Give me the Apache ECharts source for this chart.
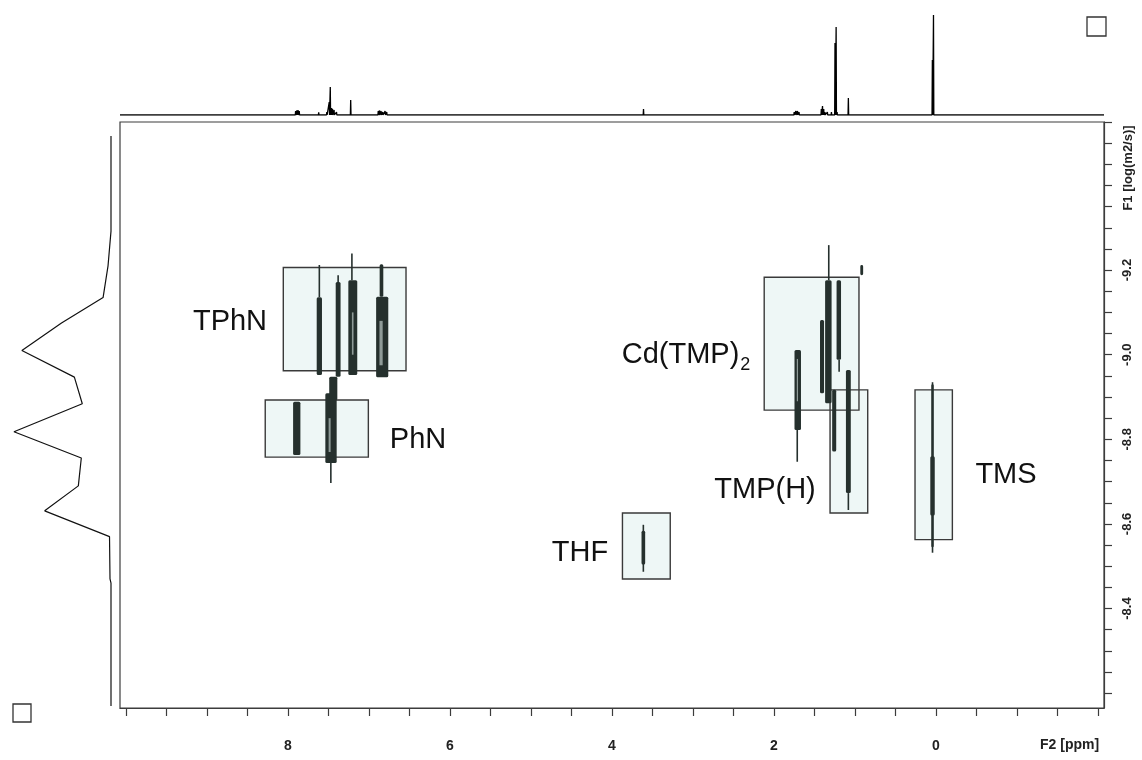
<!DOCTYPE html>
<html><head><meta charset="utf-8">
<script src="https://cdn.jsdelivr.net/npm/echarts@6/dist/echarts.min.js"></script>
<style>html,body{margin:0;padding:0;background:#fff}#c{width:1142px;height:760px}</style>
</head><body><div id="c"></div><script>
// ---- axes ----
const f2Range = [-2.075, 10.073];           // ppm (drawn inverted)
const f1Range = [-9.55, -8.165];            // log(m2/s) (drawn inverted)
const f2TickValues = [10,9.5,9,8.5,8,7.5,7,6.5,6,5.5,5,4.5,4,3.5,3,2.5,2,1.5,1,0.5,0,-0.5,-1,-1.5,-2];
const f2LabelValues = [8,6,4,2,0];
const f1TickValues = [-9.55,-9.5,-9.45,-9.4,-9.35,-9.3,-9.25,-9.2,-9.15,-9.1,-9.05,-9.0,-8.95,-8.9,-8.85,-8.8,-8.75,-8.7,-8.65,-8.6,-8.55,-8.5,-8.45,-8.4,-8.35,-8.3,-8.25,-8.2];
const f1LabelValues = [-9.2,-9.0,-8.8,-8.6,-8.4];

// ---- 1D 1H spectrum on top: [ppm, intensity] ----
const spectrumPeaks = [
  [7.905,4],[7.89,4.5],[7.875,5],[7.86,4],
  [7.62,2.7],
  [7.52,3],[7.49,13],[7.477,28],[7.46,7],[7.45,6],[7.43,5],[7.40,3],
  [7.225,15],[7.205,2],
  [6.885,4],[6.87,4.5],[6.85,4],[6.83,3],[6.80,4],[6.78,3],
  [3.61,6],
  [1.75,3],[1.73,4],[1.71,4],[1.69,3],
  [1.415,6],[1.40,9],[1.385,6],[1.37,3],
  [1.34,3],[1.32,2],[1.29,3],[1.27,2],
  [1.246,72],[1.232,88],[1.22,3],
  [1.081,17],
  [0.044,55],[0.03,100]
];

// ---- diffusion projection on the left: [intensity, logD] ----
const projection = [
  [0,-9.517],[0,-9.292],[3,-9.21],[8,-9.135],[50,-9.075],[90,-9.010],[37,-8.947],[29,-8.884],
  [98,-8.818],[30,-8.756],[33,-8.690],[67,-8.631],[1.5,-8.570],[1,-8.47],[0,-8.46],[0,-8.17]
];

// ---- highlighted regions: [ppmLeft, ppmRight, logDTop, logDBottom] ----
const regionBoxes = [
  [8.057,6.542,-9.206,-8.962],
  [8.28,7.007,-8.893,-8.758],
  [2.12,0.95,-9.183,-8.869],
  [1.307,0.842,-8.917,-8.626],
  [0.258,-0.203,-8.917,-8.563],
  [3.87,3.28,-8.626,-8.470]
];

// ---- region labels: [ppm, logD, text] ----
const regionLabels = [
  [8.715,-9.077,'TPhN'],
  [6.394,-8.799,'PhN'],
  [3.085,-9.000,'Cd(TMP)2'],
  [2.11,-8.681,'TMP(H)'],
  [-0.865,-8.716,'TMS'],
  [4.394,-8.532,'THF']
];

// ---- DOSY cross peaks: body [ppm, logDFrom, logDTo, ppmWidth] ----
const peakBodies = [
  [7.612,-9.136,-8.952,0.065],
  [7.380,-9.172,-8.948,0.06],
  [7.199,-9.176,-8.952,0.11],
  [6.836,-9.137,-8.947,0.15],
  [6.845,-9.214,-9.137,0.045],
  [7.891,-8.889,-8.763,0.09],
  [7.468,-8.909,-8.744,0.14],
  [7.44,-8.948,-8.893,0.10],
  [1.328,-9.176,-8.885,0.08],
  [1.406,-9.082,-8.909,0.05],
  [1.199,-9.176,-8.988,0.055],
  [1.256,-8.917,-8.771,0.05],
  [1.081,-8.964,-8.673,0.06],
  [1.706,-9.011,-8.822,0.08],
  [0.916,-9.212,-9.188,0.035],
  [0.042,-8.93,-8.545,0.03],
  [0.042,-8.76,-8.62,0.055],
  [3.612,-8.584,-8.504,0.045]
];
// thin peak tails: [ppm, logDFrom, logDTo]
const peakTails = [
  [7.612,-9.212,-9.136],
  [7.38,-9.188,-9.172],
  [7.210,-9.239,-9.176],
  [7.47,-8.744,-8.697],
  [1.323,-9.259,-9.176],
  [1.195,-8.988,-8.96],
  [1.081,-8.673,-8.633],
  [1.712,-8.822,-8.747],
  [0.042,-8.935,-8.532],
  [3.612,-8.598,-8.487]
];
// lighter cores inside contours: [ppm, logDFrom, logDTo, ppmWidth]
const peakCores = [
  [7.20,-9.10,-9.0,0.02],
  [6.85,-9.08,-8.975,0.04],
  [7.485,-8.85,-8.77,0.025],
  [1.71,-8.99,-8.89,0.015]
];

// ---- build line data ----
const spectrumLine = [[f2Range[1],0]];
spectrumPeaks.slice().sort((a,b)=>b[0]-a[0]).forEach(p=>{
  spectrumLine.push([p[0]+0.004,0],[p[0],p[1]],[p[0]-0.004,0]);
});
spectrumLine.push([f2Range[0],0]);

const FONT = 'Liberation Sans, Arial, sans-serif';
const INK = '#25302d';

function box(api, x0, x1, y0, y1){
  const a = api.coord([x0,y0]), b = api.coord([x1,y1]);
  return {x:Math.min(a[0],b[0]), y:Math.min(a[1],b[1]), width:Math.abs(a[0]-b[0]), height:Math.abs(a[1]-b[1])};
}

const chart = echarts.init(document.getElementById('c'), null, {renderer:'canvas'});
chart.setOption({
  animation:false,
  backgroundColor:'#fff',
  grid:[
    {left:120, top:122, width:984, height:586, show:true, borderColor:'#3c3c3c', borderWidth:1.2, backgroundColor:'transparent'},
    {left:120, top:10, width:984, height:105},
    {left:12, top:122, width:99, height:586}
  ],
  xAxis:[
    {gridIndex:0, type:'value', min:f2Range[0], max:f2Range[1], inverse:true, position:'bottom',
     axisLine:{show:true, onZero:false, lineStyle:{color:'#3c3c3c', width:1.2}},
     axisTick:{show:true, customValues:f2TickValues, length:8, lineStyle:{color:'#3c3c3c', width:1.2}},
     axisLabel:{customValues:f2LabelValues, margin:31, fontFamily:FONT, fontWeight:'bold', fontSize:14, color:'#222'},
     splitLine:{show:false}},
    {gridIndex:1, type:'value', min:f2Range[0], max:f2Range[1], inverse:true, show:false},
    {gridIndex:2, type:'value', min:0, max:100, inverse:true, show:false}
  ],
  yAxis:[
    {gridIndex:0, type:'value', min:f1Range[0], max:f1Range[1], inverse:true, position:'right',
     axisLine:{show:true, onZero:false, lineStyle:{color:'#3c3c3c', width:1.2}},
     axisTick:{show:true, customValues:f1TickValues, length:8, lineStyle:{color:'#3c3c3c', width:1.2}},
     axisLabel:{customValues:f1LabelValues, rotate:90, margin:17, fontFamily:FONT, fontWeight:'bold', fontSize:13, color:'#222',
       formatter:v=>v.toFixed(1)},
     splitLine:{show:false}},
    {gridIndex:1, type:'value', min:0, max:105, show:false},
    {gridIndex:2, type:'value', min:f1Range[0], max:f1Range[1], inverse:true, show:false}
  ],
  series:[
    {type:'line', xAxisIndex:1, yAxisIndex:1, data:spectrumLine, showSymbol:false, symbol:'none',
     lineStyle:{color:'#000', width:1.3}, z:3},
    {type:'line', xAxisIndex:2, yAxisIndex:2, data:projection, showSymbol:false, symbol:'none',
     lineStyle:{color:'#111', width:1.2}, z:3},
    {type:'custom', xAxisIndex:0, yAxisIndex:0, data:regionBoxes, z:2,
     renderItem:(p,api)=>({type:'rect', shape:box(api,api.value(0),api.value(1),api.value(2),api.value(3)),
       style:{fill:'#eef7f6'}})},
    {type:'custom', xAxisIndex:0, yAxisIndex:0, data:regionBoxes, z:3,
     renderItem:(p,api)=>({type:'rect', shape:box(api,api.value(0),api.value(1),api.value(2),api.value(3)),
       style:{fill:'none', stroke:'#3a3a3a', lineWidth:1.4}})},
    {type:'custom', xAxisIndex:0, yAxisIndex:0, data:peakTails, z:4,
     renderItem:(p,api)=>{const a=api.coord([api.value(0),api.value(1)]), b=api.coord([api.value(0),api.value(2)]);
       return {type:'line', shape:{x1:a[0],y1:a[1],x2:b[0],y2:b[1]}, style:{stroke:INK, lineWidth:1.6}};}},
    {type:'custom', xAxisIndex:0, yAxisIndex:0, data:peakBodies, z:5,
     renderItem:(p,api)=>{const w=api.value(3)/2;
       return {type:'rect', shape:Object.assign(box(api,api.value(0)+w,api.value(0)-w,api.value(1),api.value(2)),{r:1.5}),
         style:{fill:INK}};}},
    {type:'custom', xAxisIndex:0, yAxisIndex:0, data:peakCores, z:6,
     renderItem:(p,api)=>{const w=api.value(3)/2;
       return {type:'rect', shape:box(api,api.value(0)+w,api.value(0)-w,api.value(1),api.value(2)),
         style:{fill:'#8f9b98'}};}},
    {type:'custom', xAxisIndex:0, yAxisIndex:0, data:regionLabels, z:7,
     renderItem:(p,api)=>{const pt=api.coord([api.value(0),api.value(1)]); const t=regionLabels[p.dataIndex][2];
       const rich = t==='Cd(TMP)2';
       return {type:'text', x:pt[0], y:pt[1], style:{
         text: rich ? '{m|Cd(TMP)}{s|2}' : t, fill:'#111', fontFamily:FONT, fontSize:29,
         align:'center', verticalAlign:'middle',
         rich:{m:{fontSize:29, fontFamily:FONT, fill:'#111', verticalAlign:'middle'},
               s:{fontSize:18, fontFamily:FONT, fill:'#111', padding:[20,0,0,1], verticalAlign:'middle'}}}};}}
  ],
  graphic:[
    {type:'text', left:1040, top:738, style:{text:'F2 [ppm]', fontFamily:FONT, fontWeight:'bold', fontSize:14, fill:'#222'}},
    {type:'text', x:1128, y:168, rotation:Math.PI/2, style:{text:'F1 [log(m2/s)]', fontFamily:FONT, fontWeight:'bold', fontSize:13, fill:'#222', align:'center', verticalAlign:'middle'}},
    {type:'rect', shape:{x:1087, y:17, width:19, height:19}, style:{fill:'#fff', stroke:'#333', lineWidth:1.3}},
    {type:'rect', shape:{x:13, y:704, width:18, height:18}, style:{fill:'#fff', stroke:'#333', lineWidth:1.3}}
  ]
});
</script></body></html>
